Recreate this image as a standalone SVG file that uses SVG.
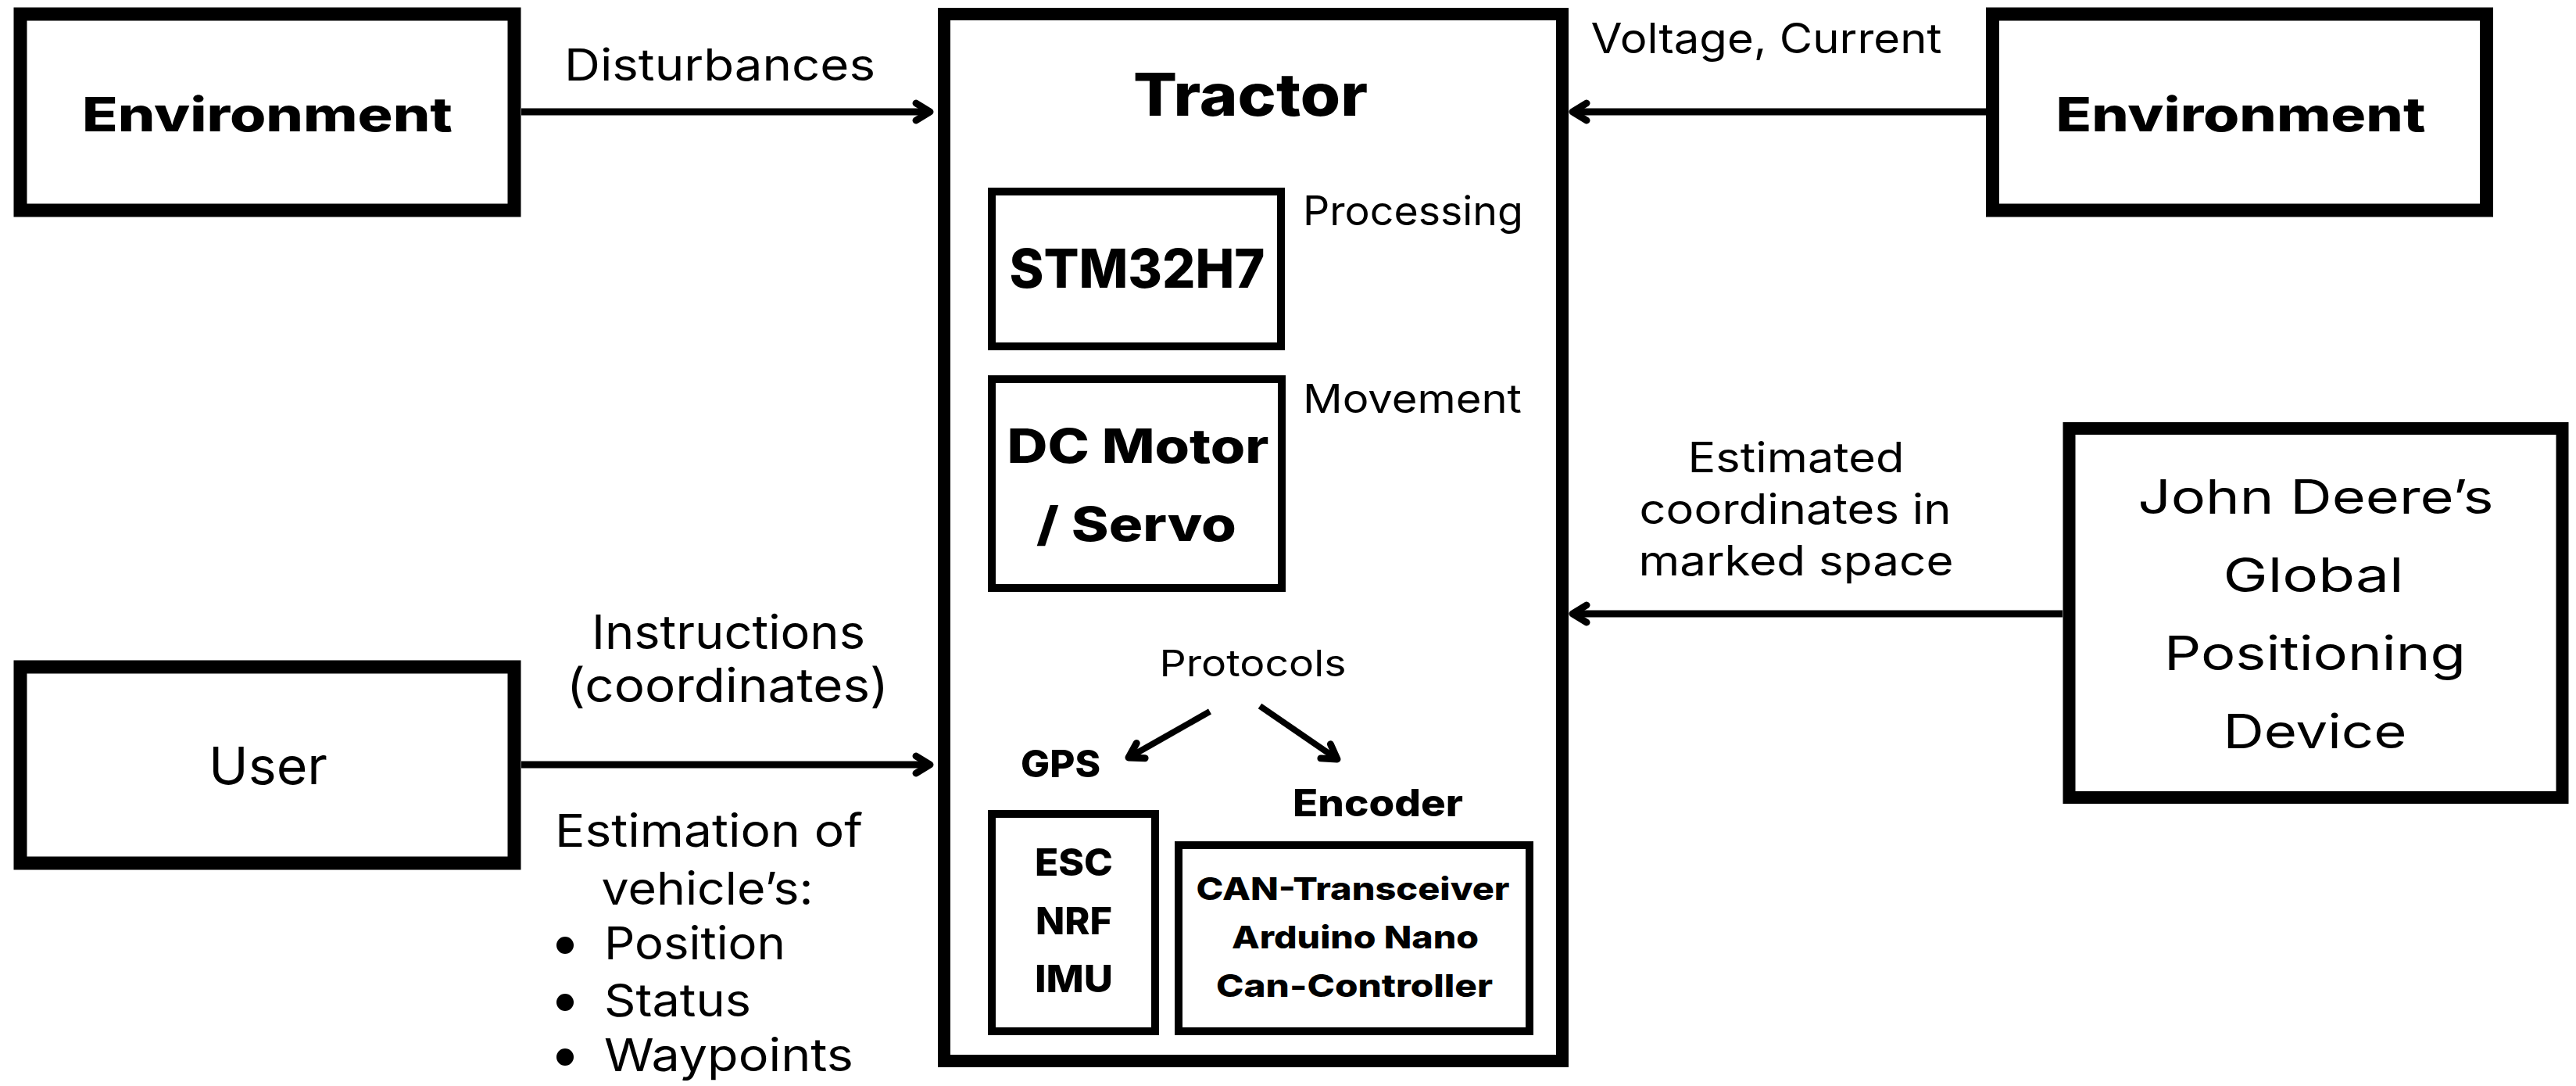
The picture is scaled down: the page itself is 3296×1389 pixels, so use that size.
<svg xmlns="http://www.w3.org/2000/svg" width="3296" height="1389" viewBox="0 0 3296 1389">
<style>
.box{fill:#fff;stroke:#000;stroke-width:17}
.ibox{fill:#fff;stroke:#000;stroke-width:10}
text{font-family:Inter,"Liberation Sans",sans-serif;fill:#000}
.b{font-weight:800}
.c{text-anchor:middle}
.con{stroke:#000;stroke-width:9;fill:none}
</style>
<defs>
<marker id="ah" markerUnits="userSpaceOnUse" markerWidth="50" markerHeight="50" viewBox="-30 -25 50 50" refX="0" refY="0" orient="auto" overflow="visible">
<path d="M-18,-11 L0,0 L-18,11" fill="none" stroke="#000" stroke-width="9" stroke-linecap="round" stroke-linejoin="round"/>
</marker>
</defs>
<rect width="3296" height="1389" fill="#fff"/>

<g id="env-left">
<rect class="box" x="26" y="18" width="632" height="251"/>
<text x="342" y="168" class="c b" font-size="60" textLength="474" lengthAdjust="spacingAndGlyphs">Environment</text>
</g>

<g id="env-right">
<rect class="box" x="2549.5" y="18" width="632" height="251"/>
<text x="2867" y="168" class="c b" font-size="60" textLength="473" lengthAdjust="spacingAndGlyphs">Environment</text>
</g>

<g id="user">
<rect class="box" x="26" y="853" width="632" height="251"/>
<text x="343" y="1003" class="c" font-size="66" textLength="152" lengthAdjust="spacingAndGlyphs">User</text>
</g>

<g id="john-deere">
<rect class="box" style="stroke-width:16" x="2647.5" y="548" width="631" height="472"/>
<text x="2963" y="657" class="c" font-size="61" textLength="455" lengthAdjust="spacingAndGlyphs">John Deere’s</text>
<text x="2960" y="757" class="c" font-size="61" textLength="231" lengthAdjust="spacingAndGlyphs">Global</text>
<text x="2962" y="857" class="c" font-size="61" textLength="386" lengthAdjust="spacingAndGlyphs">Positioning</text>
<text x="2962" y="957" class="c" font-size="61" textLength="235" lengthAdjust="spacingAndGlyphs">Device</text>
</g>

<g id="tractor">
<rect class="box" style="stroke-width:16" x="1208" y="18" width="791" height="1339"/>
<text x="1600" y="148" class="c b" font-size="75" textLength="300" lengthAdjust="spacingAndGlyphs">Tractor</text>
<text x="1667" y="288" font-size="52" textLength="282" lengthAdjust="spacingAndGlyphs">Processing</text>
<text x="1667" y="528" font-size="51" textLength="280" lengthAdjust="spacingAndGlyphs">Movement</text>
<text x="1603" y="865" class="c" font-size="47" textLength="239" lengthAdjust="spacingAndGlyphs">Protocols</text>
<text x="1357" y="994" class="c b" font-size="48" textLength="102" lengthAdjust="spacingAndGlyphs">GPS</text>
<text x="1763" y="1044" class="c b" font-size="48" textLength="218" lengthAdjust="spacingAndGlyphs">Encoder</text>
</g>

<g id="stm32h7">
<rect class="ibox" x="1269" y="245" width="370" height="198"/>
<text x="1455" y="368" class="c b" font-size="69" textLength="327" lengthAdjust="spacingAndGlyphs">STM32H7</text>
</g>

<g id="dc-motor">
<rect class="ibox" x="1269" y="485" width="371" height="267"/>
<text x="1456" y="592" class="c b" font-size="60" textLength="335" lengthAdjust="spacingAndGlyphs">DC Motor</text>
<text x="1454" y="692" class="c b" font-size="60" textLength="256" lengthAdjust="spacingAndGlyphs">/ Servo</text>
</g>

<g id="gps-modules">
<rect class="ibox" x="1269" y="1041" width="209" height="278"/>
<text x="1374" y="1120" class="c b" font-size="48" textLength="100" lengthAdjust="spacingAndGlyphs">ESC</text>
<text x="1374" y="1195" class="c b" font-size="48" textLength="98" lengthAdjust="spacingAndGlyphs">NRF</text>
<text x="1374" y="1269" class="c b" font-size="48" textLength="100" lengthAdjust="spacingAndGlyphs">IMU</text>
</g>

<g id="encoder-modules">
<rect class="ibox" x="1508" y="1081" width="449" height="238"/>
<text x="1731" y="1151" class="c b" font-size="40" textLength="401" lengthAdjust="spacingAndGlyphs">CAN-Transceiver</text>
<text x="1734" y="1213" class="c b" font-size="40" textLength="316" lengthAdjust="spacingAndGlyphs">Arduino Nano</text>
<text x="1733" y="1275" class="c b" font-size="40" textLength="354" lengthAdjust="spacingAndGlyphs">Can-Controller</text>
</g>

<g id="connectors">
<line class="con" x1="667" y1="143" x2="1190" y2="143" marker-end="url(#ah)"/>
<line class="con" x1="2541" y1="143" x2="2012" y2="143" marker-end="url(#ah)"/>
<line class="con" x1="667" y1="978" x2="1190" y2="978" marker-end="url(#ah)"/>
<line class="con" x1="2639" y1="785" x2="2012" y2="785" marker-end="url(#ah)"/>
<line class="con" style="stroke-width:8" x1="1548" y1="910" x2="1444" y2="969" marker-end="url(#ah)"/>
<line class="con" style="stroke-width:8" x1="1612" y1="903" x2="1711" y2="971" marker-end="url(#ah)"/>
<text x="921" y="103" class="c" font-size="56" textLength="398" lengthAdjust="spacingAndGlyphs">Disturbances</text>
<text x="2260" y="68" class="c" font-size="53" textLength="449" lengthAdjust="spacingAndGlyphs">Voltage, Current</text>
<text x="932" y="830" class="c" font-size="60" textLength="350" lengthAdjust="spacingAndGlyphs">Instructions</text>
<text x="931" y="898" class="c" font-size="60" textLength="412" lengthAdjust="spacingAndGlyphs">(coordinates)</text>
<text x="907" y="1083" class="c" font-size="58" textLength="394" lengthAdjust="spacingAndGlyphs">Estimation of</text>
<text x="905" y="1157" class="c" font-size="58" textLength="271" lengthAdjust="spacingAndGlyphs">vehicle’s:</text>
<circle cx="723" cy="1209" r="11" fill="#000"/>
<text x="773" y="1227" font-size="58" textLength="232" lengthAdjust="spacingAndGlyphs">Position</text>
<circle cx="723" cy="1282" r="11" fill="#000"/>
<text x="773" y="1300" font-size="58" textLength="188" lengthAdjust="spacingAndGlyphs">Status</text>
<circle cx="723" cy="1352" r="11" fill="#000"/>
<text x="773" y="1370" font-size="58" textLength="319" lengthAdjust="spacingAndGlyphs">Waypoints</text>
<text x="2298" y="604" class="c" font-size="53" textLength="277" lengthAdjust="spacingAndGlyphs">Estimated</text>
<text x="2297" y="670" class="c" font-size="53" textLength="399" lengthAdjust="spacingAndGlyphs">coordinates in</text>
<text x="2298" y="736" class="c" font-size="53" textLength="403" lengthAdjust="spacingAndGlyphs">marked space</text>
</g>
</svg>
